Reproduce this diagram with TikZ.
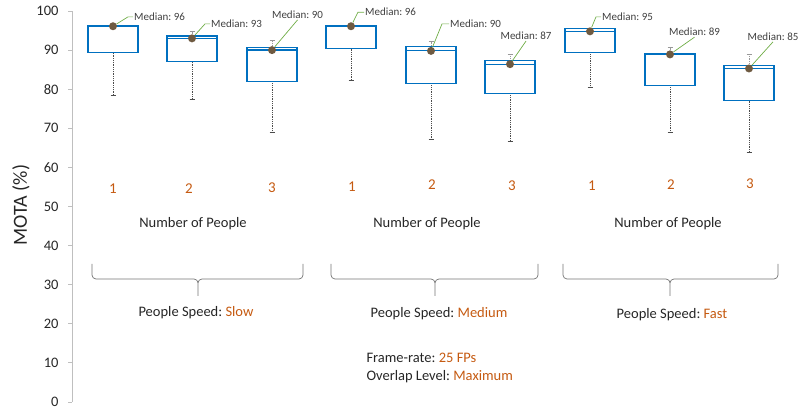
\documentclass[tikz,border=0pt]{standalone}
\usepackage{fontspec}
\setmainfont{Carlito}
\frenchspacing
\usetikzlibrary{positioning, calc}
\definecolor{boxblue}{RGB}{0,112,192}
\definecolor{dotbrown}{RGB}{110,90,65}
\definecolor{leadgreen}{RGB}{112,173,71}
\definecolor{catorange}{RGB}{197,90,17}
\definecolor{txtgray}{RGB}{64,64,64}
\definecolor{axgray}{RGB}{191,191,191}

\begin{document}
\begin{tikzpicture}[
		x=1pt, y=1pt,
		% estilos de la grafica de cajas
		box/.style = {draw=boxblue, line width=1.2pt, fill=white},
		whisklo/.style = {draw=black!70, line width=0.7pt, dash pattern=on 1pt off 0.8pt},
		whiskhi/.style = {draw=black!40, line width=0.7pt, dash pattern=on 1pt off 0.8pt},
		wcap/.style = {line width=0.7pt},
		mdot/.style = {circle, fill=dotbrown, inner sep=0pt, minimum size=8pt},
		mlab/.style = {font=\fontsize{11}{13}\selectfont, text=txtgray, inner sep=1pt},
		lead/.style = {draw=leadgreen, line width=0.7pt},
		num/.style = {font=\fontsize{15}{18}\selectfont, text=catorange},
		lab/.style = {font=\fontsize{14.5}{17}\selectfont, text=black!85},
		tick/.style = {font=\fontsize{14.5}{17}\selectfont, text=black!85, anchor=east},
		brk/.style = {draw=black!55, line width=0.7pt, rounded corners=4pt}
		]
		
		\useasboundingbox (0,0) rectangle (800,411);
		
		% --- EJE Y ---
		\node [font=\fontsize{20}{24}\selectfont, rotate=90, text=black!85] (ylab) at (21,206) {MOTA (\%)};
		
		\begin{scope}[yshift=9pt, y=3.91pt]
		\draw [axgray, line width=0.8pt] (72,0) -- (72,100);
		\foreach \v in {0,10,...,100} {
			\draw [axgray, line width=0.8pt] (68,\v) -- (72,\v);
			\node [tick] (t\v) at (62,\v) {\v};
		}
		
		% --- CAJAS (grupo/x/Q1/mediana/Q3/max/min) ---
		\foreach \g/\cx/\qa/\md/\qb/\wt/\wb in {
			11/113/89.3/96.1/96.3/96.3/78.5,
			12/192/87.0/93.0/93.6/94.7/77.4,
			13/272/82.0/90.0/90.6/92.5/69.0,
			21/351/90.4/96.1/96.2/96.2/82.2,
			22/431/81.5/89.8/91.0/92.2/67.2,
			23/510/79.0/86.4/87.3/89.0/66.7,
			31/590/89.4/94.8/95.5/95.5/80.4,
			32/670/81.0/88.9/89.0/90.7/69.0,
			33/749/77.1/85.3/86.0/88.9/63.8} {
			\draw [whisklo] (\cx,\qa) -- (\cx,\wb);
			\draw [wcap, black!70] (\cx-2.5,\wb) -- (\cx+2.5,\wb);
			\draw [whiskhi] (\cx,\qb) -- (\cx,\wt);
			\draw [wcap, black!40] (\cx-2.5,\wt) -- (\cx+2.5,\wt);
			\draw [box] (\cx-25,\qa) rectangle (\cx+25,\md);
			\draw [box] (\cx-25,\md) rectangle (\cx+25,\qb);
			\node [mdot] (m\g) at (\cx,\md) {};
		}
		
		% --- ETIQUETAS DE MEDIANA ---
		\node [mlab, anchor=west] (l11) at (133,98.5) {Median: 96};
		\draw [lead] (m11) -- (128,98.5) -- (l11.west);
		\node [mlab, anchor=west] (l12) at (210,96.7) {Median: 93};
		\draw [lead] (m12) -- (205,96.7) -- (l12.west);
		\node [mlab] (l13) at (297.5,99.0) {Median: 90};
		\draw [lead] (m13) -- (l13.south);
		
		\node [mlab, anchor=west] (l21) at (364,99.7) {Median: 96};
		\draw [lead] (m21) -- (358,99.7) -- (l21.west);
		\node [mlab, anchor=west] (l22) at (449,96.7) {Median: 90};
		\draw [lead] (m22) -- (442,96.7) -- (l22.west);
		\node [mlab] (l23) at (526,93.6) {Median: 87};
		\draw [lead] (m23) -- (l23.south);
		
		\node [mlab, anchor=west] (l31) at (601,98.5) {Median: 95};
		\draw [lead] (m31) -- (596,98.5) -- (l31.west);
		\node [mlab] (l32) at (694.5,94.6) {Median: 89};
		\draw [lead] (m32) -- (l32.south);
		\node [mlab] (l33) at (773,93.4) {Median: 85};
		\draw [lead] (m33) -- (l33.south);
		\end{scope}
		
		% --- NUMERO DE PERSONAS ---
		\node [num] (n11) at (113,222.7) {1};
		\node [num] (n12) at (189,222.7) {2};
		\node [num] (n13) at (272,223.7) {3};
		\node [num] (n21) at (352,224.3) {1};
		\node [num] (n22) at (432,226) {2};
		\node [num] (n23) at (512,225) {3};
		\node [num] (n31) at (592,225) {1};
		\node [num] (n32) at (671,226) {2};
		\node [num] (n33) at (750,227) {3};
		
		\node [lab] (np1) at (193,187) {Number of People};
		\node [lab] (np2) at (427,187) {Number of People};
		\node [lab] (np3) at (668,187.7) {Number of People};
		
		% --- LLAVES DE VELOCIDAD ---
		\draw [brk] (92,147) |- (198,132) -- (198,115) (303,147) |- (198,132) -- (198,115);
		\draw [brk] (331,147) |- (435,132) -- (435,115) (538,147) |- (435,132) -- (435,115);
		\draw [brk] (563,147) |- (670,132) -- (670,115) (778,147) |- (670,132) -- (670,115);
		
		\node [lab] (sp1) at (196,98.3) {People Speed: \textcolor{catorange}{Slow}};
		\node [lab] (sp2) at (439,97) {People Speed: \textcolor{catorange}{Medium}};
		\node [lab] (sp3) at (672,96) {People Speed: \textcolor{catorange}{Fast}};
		
		% --- CONDICIONES ---
		\node [lab, anchor=west] (fr) at (363,53) {Frame-rate: \textcolor{catorange}{25 FPs}};
		\node [lab, anchor=west] (ov) at (363,34.3) {Overlap Level: \textcolor{catorange}{Maximum}};
		
	\end{tikzpicture}
\end{document}
